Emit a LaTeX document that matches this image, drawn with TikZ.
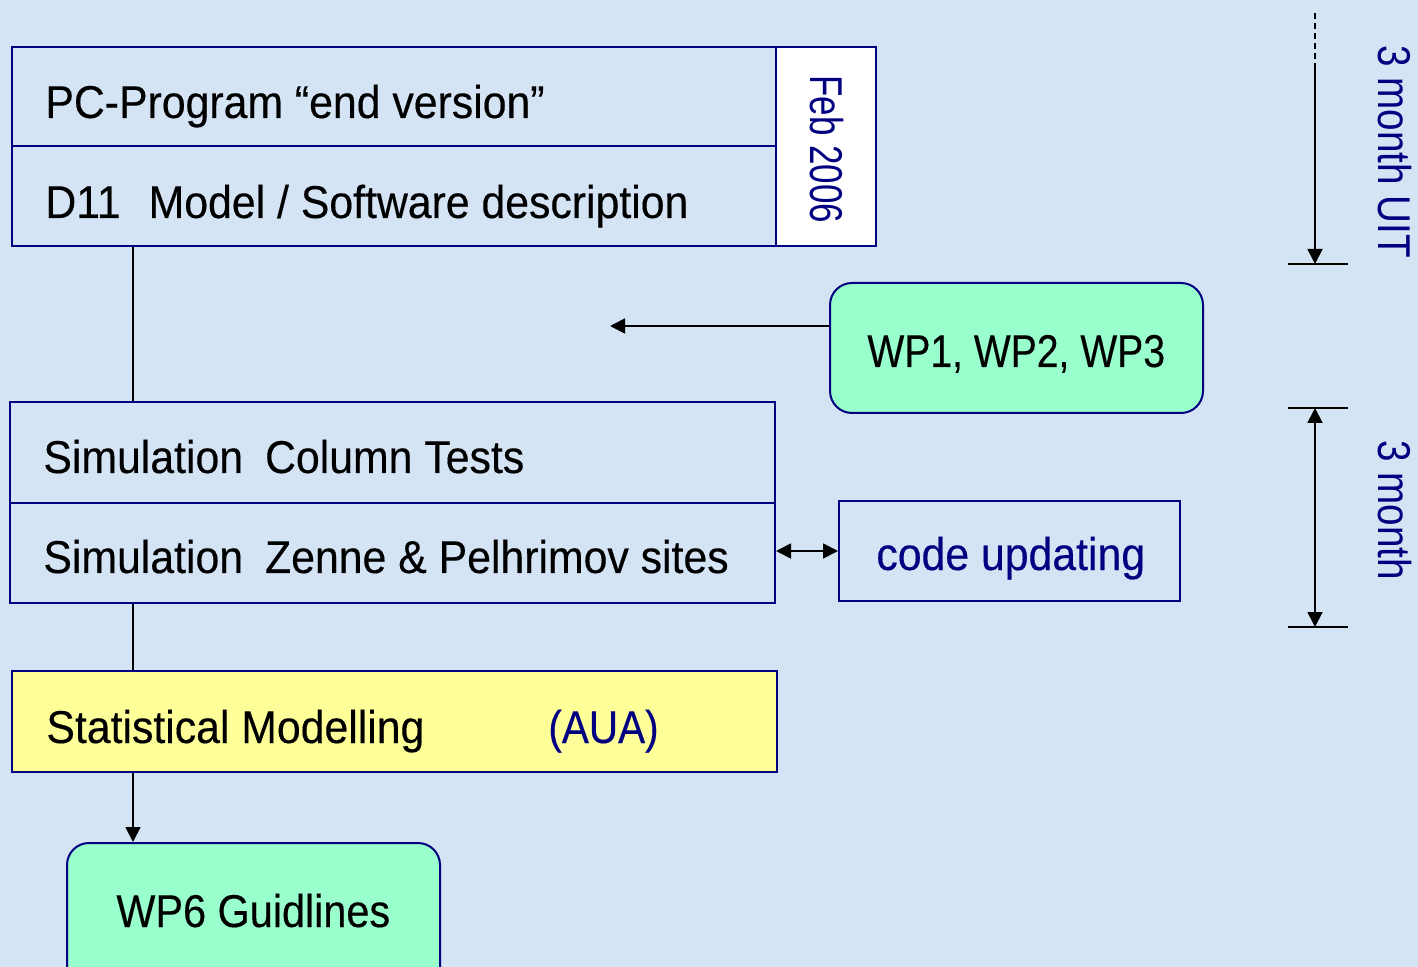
\documentclass[tikz,border=0pt]{standalone}
\usepackage{fontspec}
\setmainfont{Liberation Sans}[FakeStretch=0.93,FakeBold=0.3]
\newfontfamily\wpfont{Liberation Sans}[FakeStretch=0.85,FakeBold=0.3]
\newfontfamily\wpsixfont{Liberation Sans}[FakeStretch=0.9,FakeBold=0.3]
\newfontfamily\auafont{Liberation Sans}[FakeStretch=0.88,FakeBold=0.3]
\newfontfamily\febfont{Liberation Sans}[FakeStretch=0.76]
\newfontfamily\sidefont{Liberation Sans}[FakeStretch=0.84]
\usetikzlibrary{fit,arrows.meta}
\definecolor{bgblue}{RGB}{212,228,245}
\definecolor{boxnavy}{RGB}{0,0,128}
\definecolor{mint}{RGB}{153,255,204}
\definecolor{paleyellow}{RGB}{255,255,153}
\begin{document}
\begin{tikzpicture}[x=0.5pt,y=-0.5pt,
  box/.style={draw=boxnavy,line width=1pt,inner sep=0pt},
  roundbox/.style={box,fill=mint,rounded corners=11pt},
  lbl/.style={anchor=base west,inner sep=0pt,font=\fontsize{23}{27}\selectfont},
  sidelbl/.style={anchor=base west,inner sep=0pt,rotate=-90,text=boxnavy,font=\fontsize{23}{27}\selectfont\sidefont},
  conn/.style={line width=0.9pt,black},
  arr/.style={conn,-{Triangle[length=7.5pt,width=7.5pt]}},
  darr/.style={conn,{Triangle[length=7.5pt,width=7.5pt]}-{Triangle[length=7.5pt,width=7.5pt]}},
  tick/.style={line width=0.9pt,black}]
\clip (0,0) rectangle (1418,967);
\fill[bgblue] (0,0) rectangle (1418,967);

% boxes
\node[box,fit={(12,47)(776,146)}] (pc) {};
\node[box,fit={(12,146)(776,246)}] (d11) {};
\node[box,fill=white,fit={(776,47)(876,246)}] (feb) {};
\node[box,fit={(10,402)(775,503)}] (sim1) {};
\node[box,fit={(10,503)(775,603)}] (sim2) {};
\node[roundbox,fit={(830,283)(1203,413)}] (wp123) {};
\node[box,fit={(839,501)(1180,601)}] (code) {};
\node[box,fill=paleyellow,fit={(12,671)(777,772)}] (stat) {};
\node[roundbox,fit={(67,843)(440,1010)}] (wp6) {};

% texts
\node[lbl] (tpc) at (45,118) {PC-Program “end version”};
\node[lbl] (td11) at (45,218) {D11\hspace{14pt}Model / Software description};
\node[sidelbl,font=\fontsize{23}{27}\selectfont\febfont] (tfeb) at (810,75) {Feb 2006};
\node[lbl] (tsim1) at (43,473) {Simulation\hspace{11pt}Column Tests};
\node[lbl] (tsim2) at (43,573) {Simulation\hspace{11pt}Zenne \& Pelhrimov sites};
\node[lbl,font=\fontsize{23}{27}\selectfont\wpfont] (twp123) at (867,367) {WP1, WP2, WP3};
\node[lbl,text=boxnavy] (tcode) at (876,570) {code updating};
\node[lbl] (tstat) at (46,743) {Statistical Modelling};
\node[lbl,text=boxnavy,font=\fontsize{23}{27}\selectfont\auafont] (taua) at (548,743) {(AUA)};
\node[lbl,font=\fontsize{23}{27}\selectfont\wpsixfont] (twp6) at (116,927) {WP6 Guidlines};
\node[sidelbl] (t3uit) at (1378,45) {3 month UIT};
\node[sidelbl] (t3m) at (1378,440) {3 month};

% connectors
\coordinate (vx) at (133,0);
\draw[conn] (d11.south -| vx) -- (sim1.north -| vx);
\draw[conn] (sim2.south -| vx) -- (stat.north -| vx);
\draw[arr] (stat.south -| vx) -- (wp6.north -| vx);
\coordinate (wpend) at (610,326);
\draw[arr] (wp123.west |- wpend) -- (wpend);
\draw[darr] (code.west) -- (code.west -| sim2.east);

% right-side timeline
\coordinate (d0) at (1315,13);
\coordinate (d1) at (1315,68);
\coordinate (t1l) at (1288,264);
\coordinate (t1r) at (1348,264);
\coordinate (t2l) at (1288,408);
\coordinate (t2r) at (1348,408);
\coordinate (t3l) at (1288,627);
\coordinate (t3r) at (1348,627);
\draw[tick] (t1l) -- (t1r);
\draw[tick] (t2l) -- (t2r);
\draw[tick] (t3l) -- (t3r);
\draw[conn,dash pattern=on 3pt off 2pt] (d0) -- (d1);
\draw[arr] (d1) -- (d1 |- t1l);
\draw[darr] (d1 |- t2l) -- (d1 |- t3l);
\end{tikzpicture}
\end{document}
